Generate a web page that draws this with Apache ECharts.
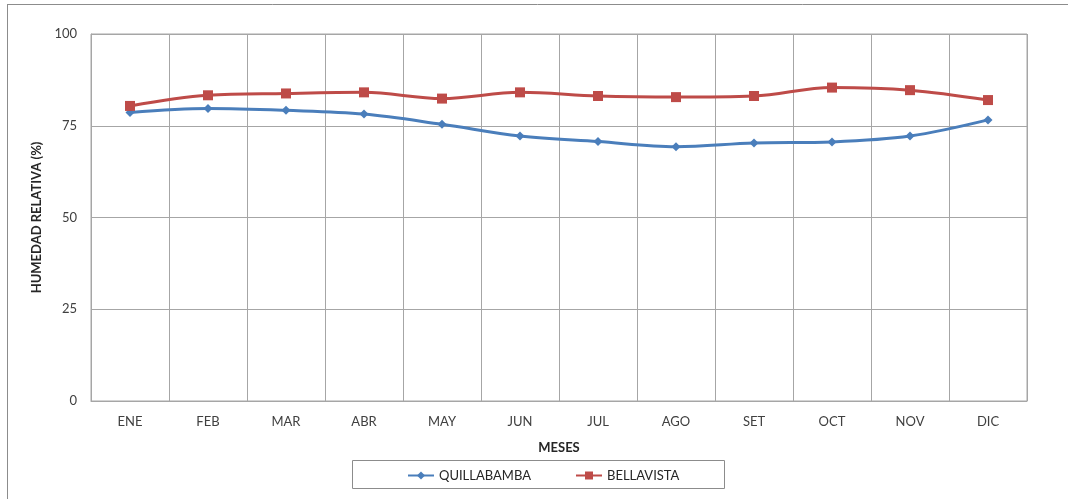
<!DOCTYPE html>
<html>
<head>
<meta charset="utf-8">
<script src="https://cdn.jsdelivr.net/npm/echarts@6/dist/echarts.min.js"></script>
<style>
  html, body { margin: 0; padding: 0; background: #fff; }
  #chart { width: 1068px; height: 499px; }
</style>
</head>
<body>
<div id="chart"></div>
<script>
// Relative humidity per month, two stations
const meses = ['ENE', 'FEB', 'MAR', 'ABR', 'MAY', 'JUN', 'JUL', 'AGO', 'SET', 'OCT', 'NOV', 'DIC'];
const quillabamba = [78.6, 79.7, 79.2, 78.2, 75.4, 72.2, 70.7, 69.3, 70.3, 70.6, 72.2, 76.6];
const bellavista = [80.4, 83.3, 83.8, 84.1, 82.4, 84.1, 83.1, 82.8, 83.1, 85.4, 84.7, 82.0];
const yTicks = [0, 25, 50, 75, 100];

const FONT = 'Lato, "Open Sans", sans-serif';
const GRID_COLOR = '#a6a6a6';
const TEXT_COLOR = '#404040';

const chart = echarts.init(document.getElementById('chart'));
chart.setOption({
  animation: false,
  textStyle: { fontFamily: FONT },
  graphic: [
    // outer frame (left and top edges)
    { type: 'line', shape: { x1: 7.5, y1: 5, x2: 7.5, y2: 499 }, style: { stroke: '#8c8c8c', lineWidth: 1 } },
    { type: 'line', shape: { x1: 7, y1: 4.5, x2: 1068, y2: 4.5 }, style: { stroke: '#8c8c8c', lineWidth: 1 } },
    // legend box
    { type: 'rect', shape: { x: 352.5, y: 460.5, width: 372, height: 28 }, style: { fill: 'none', stroke: '#8c8c8c', lineWidth: 1 }, z: 0 }
  ],
  grid: {
    left: 91, top: 34, right: 41, bottom: 98,
    show: true, borderColor: GRID_COLOR, borderWidth: 1
  },
  legend: {
    left: 402, top: 464,
    itemWidth: 26, itemHeight: 10, itemGap: 44,
    textStyle: { fontFamily: FONT, fontSize: 13, color: '#262626' },
    data: ['QUILLABAMBA', 'BELLAVISTA']
  },
  xAxis: {
    type: 'category',
    data: meses,
    boundaryGap: true,
    name: 'MESES',
    nameLocation: 'middle',
    nameGap: 40,
    nameTextStyle: { fontFamily: FONT, fontSize: 13, fontWeight: 'bold', color: '#262626' },
    axisLine: { lineStyle: { color: GRID_COLOR } },
    axisTick: { show: false },
    axisLabel: { fontSize: 13, color: TEXT_COLOR, margin: 14 },
    splitLine: { show: true, lineStyle: { color: GRID_COLOR } }
  },
  yAxis: {
    type: 'value',
    min: yTicks[0], max: yTicks[yTicks.length - 1], interval: 25,
    name: 'HUMEDAD RELATIVA (%)',
    nameLocation: 'middle',
    nameGap: 46,
    nameRotate: 90,
    nameTextStyle: { fontFamily: FONT, fontSize: 13, fontWeight: 'bold', color: '#262626' },
    axisLine: { show: true, lineStyle: { color: GRID_COLOR } },
    axisTick: { show: false },
    axisLabel: { fontSize: 13, color: TEXT_COLOR, margin: 14 },
    splitLine: { show: true, lineStyle: { color: GRID_COLOR } }
  },
  series: [
    {
      name: 'QUILLABAMBA',
      type: 'line',
      data: quillabamba,
      smooth: 0.35,
      symbol: 'diamond',
      symbolSize: 9,
      itemStyle: { color: '#4a7ebb' },
      lineStyle: { color: '#4a7ebb', width: 3 }
    },
    {
      name: 'BELLAVISTA',
      type: 'line',
      data: bellavista,
      smooth: 0.35,
      symbol: 'rect',
      symbolSize: 10,
      itemStyle: { color: '#be4b48' },
      lineStyle: { color: '#be4b48', width: 3 }
    }
  ]
});
</script>
</body>
</html>
